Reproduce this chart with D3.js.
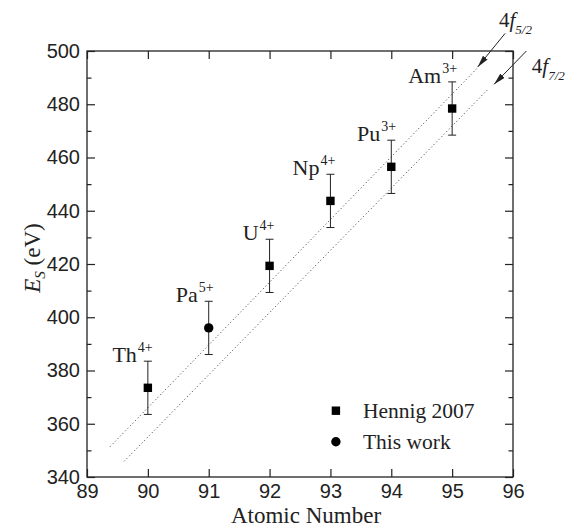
<!DOCTYPE html>
<html>
  <head>
    <meta charset="utf-8">
    <title>Es vs Atomic Number</title>
    <script src="https://cdn.jsdelivr.net/npm/d3@7"></script>
    <style>
      body { margin: 0; background: #fff; }
      svg { display: block; font-family: "Liberation Serif", "Times New Roman", serif; }
      .axis text { font-size: 20px; fill: #222; }
      .axis path { display: none; }
      .axis line { stroke: #222; stroke-width: 1.2; }
    </style>
  </head>
  <body>
    <div id="chart"></div>
    <script>
      // data
      var elements = ['Th', 'Pa', 'U', 'Np', 'Pu', 'Am'];
      var charges = ['4+', '5+', '4+', '4+', '3+', '3+'];
      var atomicNumbers = [90, 91, 92, 93, 94, 95];
      var energies = [373.5, 396.0, 419.3, 443.7, 456.5, 478.4];
      var errors = [10, 10, 10, 10, 10, 10];
      var sources = ['Hennig 2007', 'This work', 'Hennig 2007', 'Hennig 2007', 'Hennig 2007', 'Hennig 2007'];

      var legendLabels = ['Hennig 2007', 'This work'];

      var xTicks = [89, 90, 91, 92, 93, 94, 95, 96];
      var yTicks = [340, 360, 380, 400, 420, 440, 460, 480, 500];
      var yMinor = [350, 370, 390, 410, 430, 450, 470, 490];

      // dotted guide lines, [Z, Es] end points
      var line52 = [[89.38, 351.4], [95.41, 493.5]];
      var line72 = [[89.61, 345.9], [95.58, 485.4]];
      // arrows: tail -> head
      var arrow52 = [[95.87, 506.6], [95.42, 494.0]];
      var arrow72 = [[96.22, 500.0], [95.69, 487.5]];
      var arrowLabels = [
        { main: '4', it: 'f', sub: '5/2', at: [95.77, 509.1] },
        { main: '4', it: 'f', sub: '7/2', at: [96.31, 491.9] }
      ];

      var width = 570, height = 528;
      var margin = { top: 51, right: 57, bottom: 51, left: 87 };
      var w = width - margin.left - margin.right;
      var h = height - margin.top - margin.bottom;

      var svg = d3.select('#chart').append('svg')
        .attr('width', width)
        .attr('height', height);

      svg.append('defs').append('marker')
        .attr('id', 'head')
        .attr('viewBox', '0 0 12 6')
        .attr('refX', 12).attr('refY', 3)
        .attr('markerWidth', 12).attr('markerHeight', 6)
        .attr('markerUnits', 'userSpaceOnUse')
        .attr('orient', 'auto')
        .append('path')
        .attr('d', 'M0,0 L12,3 L0,6 Z')
        .attr('fill', '#222');

      var g = svg.append('g')
        .attr('transform', 'translate(' + margin.left + ',' + margin.top + ')');

      var x = d3.scaleLinear().domain([89, 96]).range([0, w]);
      var y = d3.scaleLinear().domain([340, 500]).range([h, 0]);

      // axes, ticks pointing inward
      g.append('g').attr('class', 'axis')
        .attr('transform', 'translate(0,' + h + ')')
        .call(d3.axisBottom(x).tickValues(xTicks).tickFormat(d3.format('d'))
          .tickSizeInner(-8).tickSizeOuter(0).tickPadding(7));
      g.append('g').attr('class', 'axis')
        .call(d3.axisTop(x).tickValues(xTicks).tickFormat('')
          .tickSizeInner(-8).tickSizeOuter(0));
      g.append('g').attr('class', 'axis')
        .call(d3.axisLeft(y).tickValues(yTicks).tickFormat(d3.format('d'))
          .tickSizeInner(-8).tickSizeOuter(0).tickPadding(7));
      g.append('g').attr('class', 'axis')
        .call(d3.axisLeft(y).tickValues(yMinor).tickFormat('')
          .tickSizeInner(-4.5).tickSizeOuter(0));
      g.append('g').attr('class', 'axis')
        .attr('transform', 'translate(' + w + ',0)')
        .call(d3.axisRight(y).tickValues(yTicks).tickFormat('')
          .tickSizeInner(-8).tickSizeOuter(0));
      g.append('g').attr('class', 'axis')
        .attr('transform', 'translate(' + w + ',0)')
        .call(d3.axisRight(y).tickValues(yMinor).tickFormat('')
          .tickSizeInner(-4.5).tickSizeOuter(0));

      g.append('rect')
        .attr('width', w).attr('height', h)
        .attr('fill', 'none')
        .attr('stroke', '#222')
        .attr('stroke-width', 1.3);

      // axis titles
      svg.append('text')
        .attr('x', margin.left + w / 2 + 6)
        .attr('y', 523)
        .attr('text-anchor', 'middle')
        .attr('font-size', 23)
        .attr('fill', '#222')
        .text('Atomic Number');

      var yl = svg.append('text')
        .attr('transform', 'translate(40,258) rotate(-90)')
        .attr('text-anchor', 'middle')
        .attr('font-size', 23)
        .attr('fill', '#222');
      yl.append('tspan').attr('font-style', 'italic').text('E');
      yl.append('tspan').attr('font-style', 'italic').attr('font-size', 15).attr('dy', 5).text('S');
      yl.append('tspan').attr('dy', -5).text(' (eV)');

      // dotted lines
      var line = d3.line()
        .x(function(d) { return x(d[0]); })
        .y(function(d) { return y(d[1]); });
      [line52, line72].forEach(function(pts) {
        g.append('path')
          .attr('d', line(pts))
          .attr('fill', 'none')
          .attr('stroke', '#333')
          .attr('stroke-width', 1)
          .attr('stroke-dasharray', '1,2.6');
      });

      // arrows
      [arrow52, arrow72].forEach(function(pts) {
        g.append('path')
          .attr('d', line(pts))
          .attr('stroke', '#222')
          .attr('stroke-width', 1)
          .attr('marker-end', 'url(#head)');
      });

      arrowLabels.forEach(function(a) {
        var t = g.append('text')
          .attr('x', x(a.at[0]))
          .attr('y', y(a.at[1]))
          .attr('font-size', 21)
          .attr('fill', '#222');
        t.append('tspan').text(a.main);
        t.append('tspan').attr('font-style', 'italic').text(a.it);
        t.append('tspan').attr('font-style', 'italic').attr('font-size', 13).attr('dy', 7).text(a.sub);
      });

      var data = atomicNumbers.map(function(z, i) {
        return { z: z, e: energies[i], err: errors[i], el: elements[i], q: charges[i], src: sources[i] };
      });

      // error bars
      var pts = g.selectAll('.pt').data(data).enter().append('g').attr('class', 'pt');
      pts.append('line')
        .attr('x1', function(d) { return x(d.z); })
        .attr('x2', function(d) { return x(d.z); })
        .attr('y1', function(d) { return y(d.e - d.err); })
        .attr('y2', function(d) { return y(d.e + d.err); })
        .attr('stroke', '#222').attr('stroke-width', 1);
      [-1, 1].forEach(function(s) {
        pts.append('line')
          .attr('x1', function(d) { return x(d.z) - 4; })
          .attr('x2', function(d) { return x(d.z) + 4; })
          .attr('y1', function(d) { return y(d.e + s * d.err); })
          .attr('y2', function(d) { return y(d.e + s * d.err); })
          .attr('stroke', '#222').attr('stroke-width', 1);
      });

      function marker(sel, src, cx, cy) {
        if (src === 'This work') {
          sel.append('circle').attr('cx', cx).attr('cy', cy).attr('r', 4.7).attr('fill', '#000');
        } else {
          sel.append('rect').attr('x', cx - 4.2).attr('y', cy - 4.2)
            .attr('width', 8.4).attr('height', 8.4).attr('fill', '#000');
        }
      }
      pts.each(function(d) {
        marker(d3.select(this), d.src, x(d.z), y(d.e));
      });

      // element labels
      pts.append('text')
        .attr('x', function(d) { return x(d.z) - 11; })
        .attr('y', function(d) { return y(d.e + d.err) + 1; })
        .attr('text-anchor', 'end')
        .attr('font-size', 22)
        .attr('fill', '#222')
        .text(function(d) { return d.el; });
      pts.append('text')
        .attr('x', function(d) { return x(d.z) - 10; })
        .attr('y', function(d) { return y(d.e + d.err) - 9; })
        .attr('font-size', 14)
        .attr('fill', '#222')
        .text(function(d) { return d.q; });

      // legend
      var legend = g.selectAll('.legend').data(legendLabels).enter().append('g')
        .attr('class', 'legend')
        .attr('transform', function(d, i) {
          return 'translate(' + x(93.09) + ',' + (y(364.9) + i * 31) + ')';
        });
      legend.each(function(d) { marker(d3.select(this), d, 0, 0); });
      legend.append('text')
        .attr('x', 27)
        .attr('y', 7)
        .attr('font-size', 21.5)
        .attr('fill', '#222')
        .text(function(d) { return d; });
    </script>
  </body>
</html>
